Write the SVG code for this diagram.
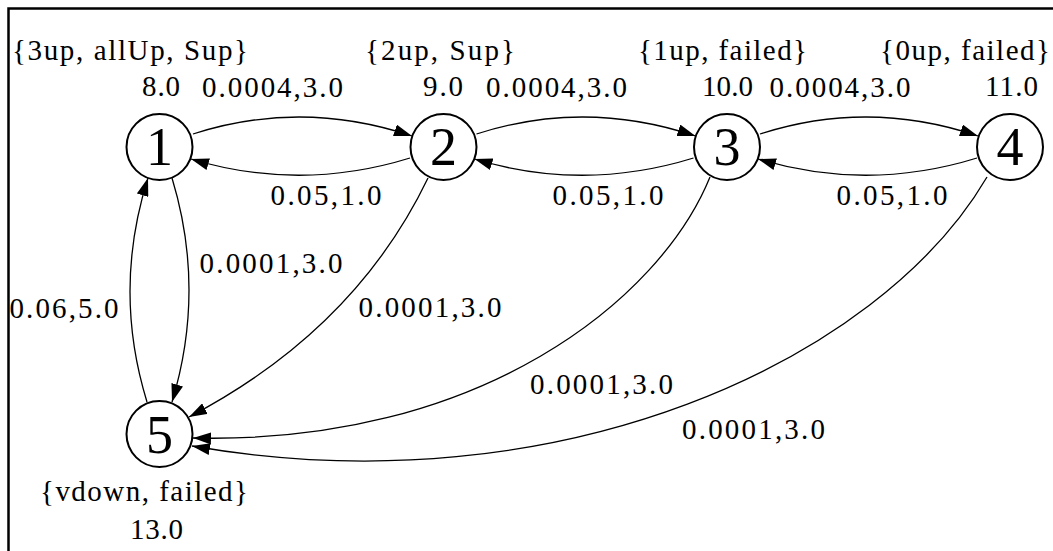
<svg xmlns="http://www.w3.org/2000/svg" width="1053" height="551" viewBox="0 0 1053 551">
<style>
  text { font-family: "Liberation Serif", "Times New Roman", serif; fill: #000; }
  .lbl { font-size: 29px; text-anchor: middle; }
  .num { font-size: 54px; text-anchor: middle; }
  .node circle { fill: #fff; stroke: #000; stroke-width: 2; }
  .edge { fill: none; stroke: #000; stroke-width: 1.3; marker-end: url(#arr); }
</style>
<defs>
  <marker id="arr" markerUnits="userSpaceOnUse" markerWidth="18" markerHeight="12" viewBox="0 0 18 12" refX="18" refY="6" orient="auto">
    <path d="M0,0 L18,6 L0,12 z" fill="#000"/>
  </marker>
</defs>
<rect x="0" y="0" width="1053" height="551" fill="#fff"/>
<g id="connectors">
  <path class="edge" d="M193,134 Q301.5,99 412,136"/>
  <path class="edge" d="M476.5,134 Q585,99 695.5,136"/>
  <path class="edge" d="M760,134 Q868.5,99 978,136"/>
  <path class="edge" d="M410,158 Q300,192 191,159"/>
  <path class="edge" d="M693.5,158 Q583.5,192 474.5,159"/>
  <path class="edge" d="M977,158 Q867,192 758,159"/>
  <path class="edge" d="M172,178 Q206,290 172,402"/>
  <path class="edge" d="M147,402 Q112.5,290 148,178"/>
  <path class="edge" d="M428,178 Q355,330 189,417"/>
  <path class="edge" d="M710,177 C660,300 480,445 193,438"/>
  <path class="edge" d="M987,177 C880,360 560,510 192,446"/>
  <text class="lbl" x="272.5" y="97" textLength="141">0.0004,3.0</text>
  <text class="lbl" x="556.5" y="97" textLength="141">0.0004,3.0</text>
  <text class="lbl" x="840" y="97" textLength="141">0.0004,3.0</text>
  <text class="lbl" x="326" y="205" textLength="111">0.05,1.0</text>
  <text class="lbl" x="608" y="205" textLength="111">0.05,1.0</text>
  <text class="lbl" x="892" y="205" textLength="111">0.05,1.0</text>
  <text class="lbl" x="271" y="273" textLength="143">0.0001,3.0</text>
  <text class="lbl" x="64" y="318" textLength="109">0.06,5.0</text>
  <text class="lbl" x="430" y="317" textLength="143">0.0001,3.0</text>
  <text class="lbl" x="601.5" y="394" textLength="143">0.0001,3.0</text>
  <text class="lbl" x="753.5" y="439" textLength="143">0.0001,3.0</text>
</g>
<g id="node1" class="node">
  <circle cx="159.5" cy="147" r="33"/>
  <text class="num" x="159.5" y="165">1</text>
  <text class="lbl" x="130" y="60" textLength="236">{3up, allUp, Sup}</text>
  <text class="lbl" x="161" y="96" textLength="38">8.0</text>
</g>
<g id="node2" class="node">
  <circle cx="443.5" cy="147" r="33"/>
  <text class="num" x="443.5" y="165">2</text>
  <text class="lbl" x="440" y="60" textLength="150">{2up, Sup}</text>
  <text class="lbl" x="443" y="96" textLength="40">9.0</text>
</g>
<g id="node3" class="node">
  <circle cx="727" cy="147" r="33"/>
  <text class="num" x="727" y="165">3</text>
  <text class="lbl" x="722.5" y="60" textLength="169">{1up, failed}</text>
  <text class="lbl" x="727.5" y="96" textLength="51">10.0</text>
</g>
<g id="node4" class="node">
  <circle cx="1010" cy="147" r="33"/>
  <text class="num" x="1010" y="165">4</text>
  <text class="lbl" x="965" y="60" textLength="170">{0up, failed}</text>
  <text class="lbl" x="1011.5" y="96" textLength="53">11.0</text>
</g>
<g id="node5" class="node">
  <circle cx="159.5" cy="434" r="33"/>
  <text class="num" x="159.5" y="453">5</text>
  <text class="lbl" x="144" y="501" textLength="208">{vdown, failed}</text>
  <text class="lbl" x="156.5" y="539" textLength="53">13.0</text>
</g>
<rect x="0" y="0" width="8" height="551" fill="#fff"/>
<rect x="0" y="0" width="1053" height="8" fill="#fff"/>
<rect x="8.5" y="8.5" width="1100" height="600" fill="none" stroke="#000" stroke-width="2.5"/>
</svg>
